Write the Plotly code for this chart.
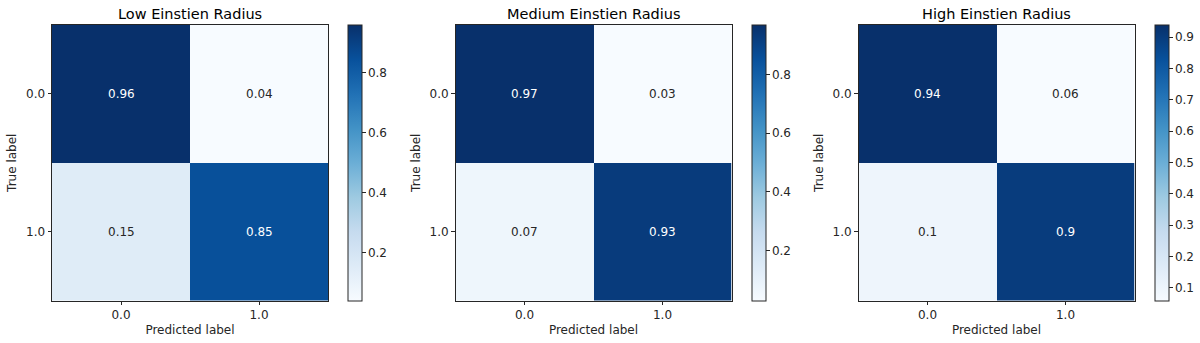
import plotly.graph_objects as go
import plotly.express as px

titles = ["Low Einstien Radius", "Medium Einstien Radius", "High Einstien Radius"]
class_labels = ["0.0", "1.0"]
low_matrix = [[0.96, 0.04], [0.15, 0.85]]
medium_matrix = [[0.97, 0.03], [0.07, 0.93]]
high_matrix = [[0.94, 0.06], [0.10, 0.90]]
matrices = [low_matrix, medium_matrix, high_matrix]

W, H = 1200, 343
FONT = "DejaVu Sans"
INK = "#262626"
blues = px.colors.sequential.Blues

# panel placement in pixels: plot left edge, colorbar left edge
panel_left = [52, 455.5, 858.5]
cbar_left = [348, 751.5, 1155]
panel_w = 276
top_px, bottom_px = 25, 300.5

y0 = (H - bottom_px) / H
y1 = (H - top_px) / H

fig = go.Figure()
for i, (title, m) in enumerate(zip(titles, matrices)):
    flat = [v for row in m for v in row]
    zmin, zmax = min(flat), max(flat)
    thresh = (zmin + zmax) / 2
    n = "" if i == 0 else str(i + 1)
    fig.add_trace(go.Heatmap(
        z=m, x=[0, 1], y=[0, 1],
        colorscale=blues, zmin=zmin, zmax=zmax,
        xaxis="x" + n, yaxis="y" + n,
        colorbar=dict(
            x=cbar_left[i] / W, xanchor="left", xpad=0,
            y=y0, yanchor="bottom", ypad=0,
            len=y1 - y0, lenmode="fraction",
            thickness=14, thicknessmode="pixels",
            outlinewidth=1, outlinecolor=INK,
            ticks="outside", ticklen=3.5, tickcolor=INK,
            tickfont=dict(family=FONT, size=12, color=INK),
            dtick=0.1 if i == 2 else 0.2,
        ),
        showscale=True,
    ))
    for r in range(2):
        for c in range(2):
            v = m[r][c]
            fig.add_annotation(
                x=c, y=r, xref="x" + n, yref="y" + n,
                text=f"{v:g}", showarrow=False,
                font=dict(family=FONT, size=12,
                          color="white" if v > thresh else INK),
            )
    xd = [panel_left[i] / W, (panel_left[i] + panel_w) / W]
    axis_common = dict(
        showline=True, mirror=True, linecolor=INK, linewidth=1,
        ticks="outside", ticklen=3.5, tickcolor=INK,
        tickvals=[0, 1], ticktext=class_labels,
        tickfont=dict(family=FONT, size=12, color=INK),
        showgrid=False, zeroline=False,
    )
    fig.update_layout(**{
        "xaxis" + n: dict(
            domain=xd, anchor="y" + n, range=[-0.5, 1.5],
            title=dict(text="Predicted label", standoff=4,
                       font=dict(family=FONT, size=12, color=INK)),
            **axis_common,
        ),
        "yaxis" + n: dict(
            domain=[y0, y1], anchor="x" + n, range=[1.5, -0.5],
            title=dict(text="True label", standoff=6,
                       font=dict(family=FONT, size=12, color=INK)),
            **axis_common,
        ),
    })
    fig.add_annotation(
        x=(xd[0] + xd[1]) / 2, y=y1, xref="paper", yref="paper",
        xanchor="center", yanchor="bottom", yshift=1, showarrow=False,
        text=title, font=dict(family=FONT, size=14.5, color="black"),
    )

fig.update_layout(
    width=W, height=H,
    margin=dict(l=0, r=0, t=0, b=0),
    paper_bgcolor="white", plot_bgcolor="white",
)
# drop the browser's default body margin so the figure sits at (0, 0)
fig.write_html("out.html", config={"displayModeBar": False},
               post_script="document.body.style.margin='0';")
